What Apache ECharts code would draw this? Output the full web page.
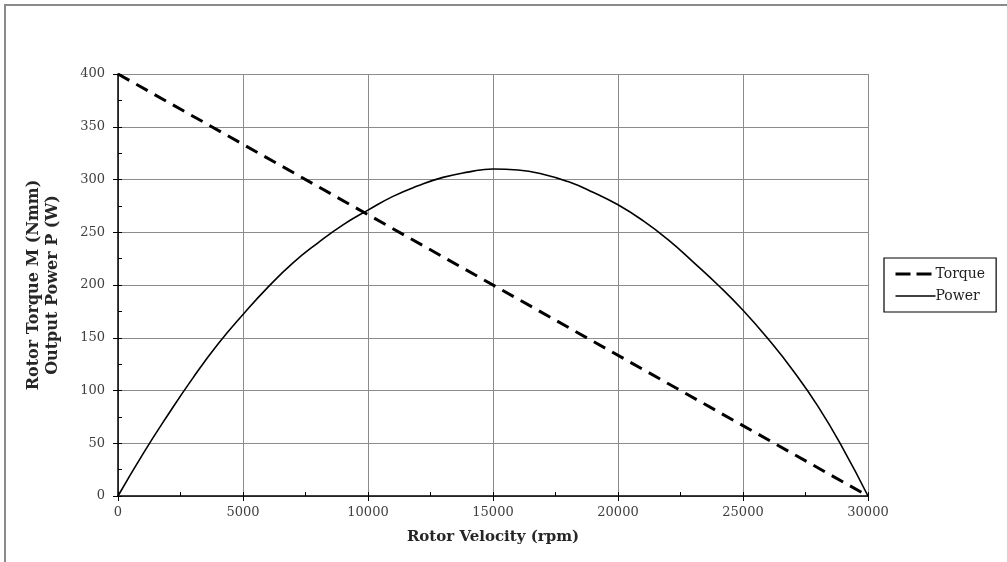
<!DOCTYPE html>
<html>
<head>
<meta charset="utf-8">
<script src="https://cdn.jsdelivr.net/npm/echarts@6/dist/echarts.min.js"></script>
<style>
  html, body { margin: 0; padding: 0; background: #fff; }
  #main { width: 1007px; height: 562px; }
</style>
</head>
<body>
<div id="main"></div>
<script>
// rotor speed (rpm) and values
var rpm = [0, 1000, 2000, 3000, 4000, 5000, 6000, 7000, 8000, 9000, 10000,
  11000, 12000, 13000, 14000, 15000, 16000, 17000, 18000, 19000, 20000,
  21000, 22000, 23000, 24000, 25000, 26000, 27000, 28000, 29000, 30000];
var power = [0, 40, 77, 112, 144, 172, 198, 221, 240, 257, 271,
  284, 294, 302, 307, 310, 309, 305, 298, 288, 276,
  261, 243, 222, 200, 176, 149, 119, 85, 45, 0];
var torqueRpm = [0, 30000];
var torque = [400, 0];

var seriesNames = ["Torque", "Power"];
var xTitle = "Rotor Velocity (rpm)";
var yTitle = "Rotor Torque M (Nmm)\nOutput Power P (W)";

var font = "'DejaVu Serif', 'Liberation Serif', serif";
var torqueDash = [13, 8];

var chart = echarts.init(document.getElementById("main"));

function pairs(xs, ys) {
  var out = [];
  for (var i = 0; i < xs.length; i++) out.push([xs[i], ys[i]]);
  return out;
}

var option = {
  animation: false,
  backgroundColor: "#fff",
  graphic: [{
    type: "polyline",
    shape: { points: [[5, 562], [5, 5], [1007, 5]] },
    style: { stroke: "#8a8a8a", lineWidth: 2, fill: null }
  }],
  grid: { left: 118, right: 139, top: 74, bottom: 66 },
  legend: {
    orient: "vertical",
    left: 884,
    top: 258,
    data: [
      { name: seriesNames[0], lineStyle: { type: [15, 6], width: 3 } },
      { name: seriesNames[1], lineStyle: { width: 1.5 } }
    ],
    itemStyle: { opacity: 0 },
    itemWidth: 40,
    itemHeight: 14,
    itemGap: 8,
    padding: [9, 11, 9, 10],
    borderColor: "#000",
    borderWidth: 1.2,
    borderRadius: 0,
    backgroundColor: "#fff",
    textStyle: { fontFamily: font, fontSize: 14, color: "#222", padding: [0, 0, 0, -5] }
  },
  xAxis: [{
    type: "value",
    min: 0, max: 30000, interval: 5000,
    name: xTitle,
    nameLocation: "middle",
    nameGap: 34,
    nameTextStyle: { fontFamily: font, fontSize: 15, fontWeight: "bold", color: "#262626" },
    axisLine: { lineStyle: { color: "#000", width: 1.5 } },
    axisTick: { length: 5, lineStyle: { color: "#000" } },
    axisLabel: { fontFamily: font, fontSize: 13, color: "#404040", margin: 10,
      formatter: function (v) { return String(v); } },
    splitLine: { lineStyle: { color: "#8c8c8c", width: 1 } }
  }, {
    type: "value",
    position: "bottom",
    min: 0, max: 30000, interval: 2500,
    axisLine: { show: false },
    axisTick: { inside: true, length: 4, lineStyle: { color: "#000" } },
    axisLabel: { show: false },
    splitLine: { show: false }
  }],
  yAxis: [{
    type: "value",
    min: 0, max: 400, interval: 50,
    name: yTitle,
    nameLocation: "middle",
    nameGap: 56,
    nameTextStyle: { fontFamily: font, fontSize: 16, fontWeight: "bold", color: "#262626", lineHeight: 19 },
    axisLine: { show: true, lineStyle: { color: "#000", width: 1.5 } },
    axisTick: { show: true, length: 5, lineStyle: { color: "#000" } },
    axisLabel: { fontFamily: font, fontSize: 13, color: "#404040", margin: 13 },
    splitLine: { lineStyle: { color: "#8c8c8c", width: 1 } }
  }, {
    type: "value",
    position: "left",
    min: 0, max: 400, interval: 25,
    axisLine: { show: false },
    axisTick: { show: true, inside: true, length: 4, lineStyle: { color: "#000" } },
    axisLabel: { show: false },
    splitLine: { show: false }
  }],
  series: [{
    name: seriesNames[0],
    type: "line",
    data: pairs(torqueRpm, torque),
    symbol: "none",
    color: "#000",
    lineStyle: { color: "#000", width: 3, type: torqueDash }
  }, {
    name: seriesNames[1],
    type: "line",
    data: pairs(rpm, power),
    smooth: true,
    symbol: "none",
    color: "#000",
    lineStyle: { color: "#000", width: 1.6 }
  }]
};

chart.setOption(option);
</script>
</body>
</html>
